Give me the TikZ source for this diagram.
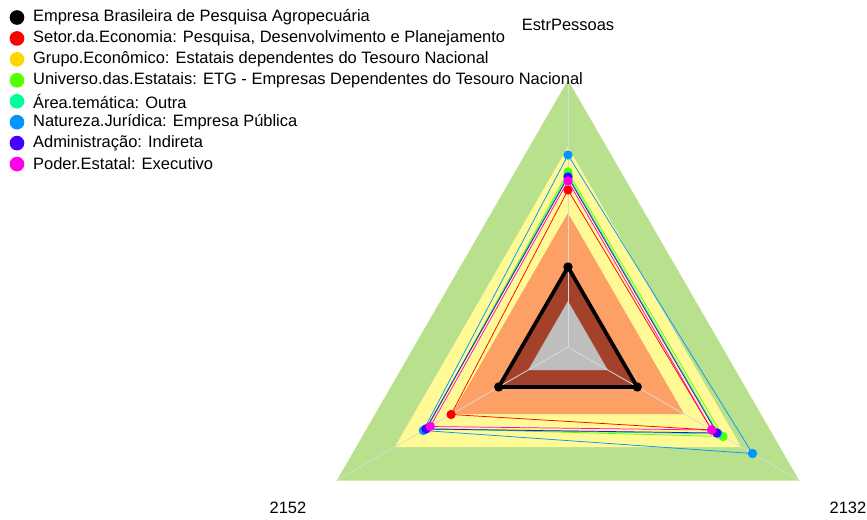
\documentclass[tikz,border=0pt]{standalone}
\usepackage{fontspec}
\setmainfont{Liberation Sans}
\usetikzlibrary{positioning}

\definecolor{bandgreen}{RGB}{185,224,141}
\definecolor{bandyellow}{RGB}{255,250,150}
\definecolor{bandorange}{RGB}{253,160,102}
\definecolor{bandbrown}{RGB}{164,65,42}
\definecolor{bandgray}{RGB}{190,190,190}
\definecolor{serred}{RGB}{255,0,0}
\definecolor{sergold}{RGB}{255,215,0}
\definecolor{sergreen}{RGB}{85,255,0}
\definecolor{serteal}{RGB}{0,255,153}
\definecolor{serblue}{RGB}{0,150,255}
\definecolor{serpurple}{RGB}{68,0,255}
\definecolor{sermagenta}{RGB}{255,0,230}

\begin{document}
\begin{tikzpicture}
        [x=0.75pt, y=0.75pt,
        band/.style ={fill=#1, draw=none},
        spoke/.style ={draw=black!15, line width=0.6pt},
        series/.style ={draw=#1, line width=0.55pt},
        dot/.style ={circle, fill=#1, inner sep=0pt, minimum size=7pt},
        keydot/.style ={circle, fill=#1, inner sep=0pt, minimum size=11pt},
        key/.style ={anchor=west, inner sep=0pt, font=\fontsize{12.35}{14}\selectfont},
        axislabel/.style ={font=\fontsize{12.35}{14}\selectfont}]
        \useasboundingbox (-568,-172) rectangle (299,347);

        % bands
        \path [band=bandgreen] (90:267) -- (210:267) -- (330:267) -- cycle;
        \path [band=bandyellow] (90:200) -- (210:200) -- (330:200) -- cycle;
        \path [band=bandorange] (90:134) -- (210:134) -- (330:134) -- cycle;
        \path [band=bandbrown] (90:78) -- (210:78) -- (330:78) -- cycle;
        \path [band=bandgray] (90:46) -- (210:46) -- (330:46) -- cycle;

        % axes
        \coordinate (center) at (0,0);
        \coordinate (top) at (90:267);
        \coordinate (left) at (210:267);
        \coordinate (right) at (330:267);
        \path [spoke] (center) -- (top);
        \path [spoke] (center) -- (left);
        \path [spoke] (center) -- (right);
        \node [axislabel] (lbltop) at (0,322) {EstrPessoas};
        \node [axislabel] (lblleft) at (-280,-161) {2152};
        \node [axislabel] (lblright) at (280,-161) {2132};

        % series: Empresa Brasileira de Pesquisa Agropecuaria
        \node [dot=black] (emb-t) at (90:80) {};
        \node [dot=black] (emb-l) at (210:80) {};
        \node [dot=black] (emb-r) at (330:80) {};
        \draw [line width=2.8pt, line join=round] (emb-t.center) -- (emb-l.center) -- (emb-r.center) -- cycle;

        % series: Setor da Economia
        \coordinate (set-t) at (90:157);
        \coordinate (set-l) at (210:135);
        \coordinate (set-r) at (330:166);
        \path [series=serred] (set-t) -- (set-l) -- (set-r) -- cycle;
        \node [dot=serred] at (set-t) {};
        \node [dot=serred] at (set-l) {};
        \node [dot=serred] at (set-r) {};

        % series: Grupo Economico
        \coordinate (grp-t) at (90:170);
        \coordinate (grp-l) at (210:163);
        \coordinate (grp-r) at (330:172);
        \path [series=sergold] (grp-t) -- (grp-l) -- (grp-r) -- cycle;
        \node [dot=sergold] at (grp-t) {};
        \node [dot=sergold] at (grp-l) {};
        \node [dot=sergold] at (grp-r) {};

        % series: Universo das Estatais
        \coordinate (uni-t) at (90:175);
        \coordinate (uni-l) at (210:163);
        \coordinate (uni-r) at (330:179);
        \path [series=sergreen] (uni-t) -- (uni-l) -- (uni-r) -- cycle;
        \node [dot=sergreen] at (uni-t) {};
        \node [dot=sergreen] at (uni-l) {};
        \node [dot=sergreen] at (uni-r) {};

        % series: Area tematica
        \coordinate (are-t) at (90:172);
        \coordinate (are-l) at (210:164);
        \coordinate (are-r) at (330:174);
        \path [series=serteal] (are-t) -- (are-l) -- (are-r) -- cycle;
        \node [dot=serteal] at (are-t) {};
        \node [dot=serteal] at (are-l) {};
        \node [dot=serteal] at (are-r) {};

        % series: Natureza Juridica
        \coordinate (nat-t) at (90:192);
        \coordinate (nat-l) at (210:167);
        \coordinate (nat-r) at (330:213);
        \path [series=serblue] (nat-t) -- (nat-l) -- (nat-r) -- cycle;
        \node [dot=serblue] at (nat-t) {};
        \node [dot=serblue] at (nat-l) {};
        \node [dot=serblue] at (nat-r) {};

        % series: Administracao
        \coordinate (adm-t) at (90:170);
        \coordinate (adm-l) at (210:164);
        \coordinate (adm-r) at (330:172);
        \path [series=serpurple] (adm-t) -- (adm-l) -- (adm-r) -- cycle;
        \node [dot=serpurple] at (adm-t) {};
        \node [dot=serpurple] at (adm-l) {};
        \node [dot=serpurple] at (adm-r) {};

        % series: Poder Estatal
        \coordinate (pod-t) at (90:166);
        \coordinate (pod-l) at (210:159);
        \coordinate (pod-r) at (330:166);
        \path [series=sermagenta] (pod-t) -- (pod-l) -- (pod-r) -- cycle;
        \node [dot=sermagenta] at (pod-t) {};
        \node [dot=sermagenta] at (pod-l) {};
        \node [dot=sermagenta] at (pod-r) {};

        % legend
        \node [keydot=black] (kd1) at (-551,329.5) {};
        \node [keydot=serred, below=4.3pt of kd1] (kd2) {};
        \node [keydot=sergold, below=4.3pt of kd2] (kd3) {};
        \node [keydot=sergreen, below=4.3pt of kd3] (kd4) {};
        \node [keydot=serteal, below=4.3pt of kd4] (kd5) {};
        \node [keydot=serblue, below=4.3pt of kd5] (kd6) {};
        \node [keydot=serpurple, below=4.3pt of kd6] (kd7) {};
        \node [keydot=sermagenta, below=4.3pt of kd7] (kd8) {};
        \node [key, right=6.2pt of kd1] (kt1) {Empresa Brasileira de Pesquisa Agropecuária};
        \node [key, right=6.2pt of kd2] (kt2) {Setor.da.Economia: Pesquisa, Desenvolvimento e Planejamento};
        \node [key, right=6.2pt of kd3] (kt3) {Grupo.Econômico: Estatais dependentes do Tesouro Nacional};
        \node [key, right=6.2pt of kd4] (kt4) {Universo.das.Estatais: ETG - Empresas Dependentes do Tesouro Nacional};
        \node [key, right=6.2pt of kd5] (kt5) {Área.temática: Outra};
        \node [key, right=6.2pt of kd6] (kt6) {Natureza.Jurídica: Empresa Pública};
        \node [key, right=6.2pt of kd7] (kt7) {Administração: Indireta};
        \node [key, right=6.2pt of kd8] (kt8) {Poder.Estatal: Executivo};
\end{tikzpicture}
\end{document}
